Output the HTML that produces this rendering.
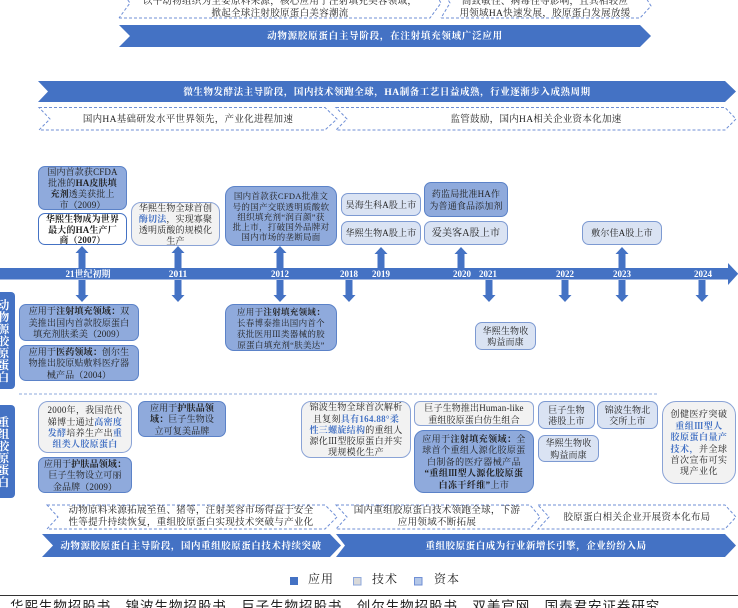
<!DOCTYPE html>
<html lang="zh"><head><meta charset="utf-8">
<style>
html,body{margin:0;padding:0;background:#fff}
#p{position:relative;width:738px;height:608px;overflow:hidden;background:#fff;font-family:"Liberation Serif","Noto Serif CJK SC",serif;color:#222;filter:blur(.25px)}
svg{position:absolute;left:0;top:0}
.b{position:absolute;box-sizing:border-box;display:flex;align-items:center;justify-content:center;text-align:center;font-size:9px;line-height:11.3px;letter-spacing:.15px;border:1px solid #6f8fd0;border-radius:7px;white-space:nowrap;overflow:hidden;padding:0}
.b>span{display:block;flex:none;position:relative;top:1px}
.d{background:#8faadc;border-color:#5b82c8}
.l{background:#dae3f3;border-color:#7d9ad2}
.g{background:#f2f2f2;border-color:#8aa3d6;border-radius:10px}
.w{background:#fff;border-color:#4472c4}
.t{position:absolute;text-align:center;white-space:nowrap;font-size:9.5px;line-height:12px;letter-spacing:.3px}
.h{color:#fff;font-weight:bold;font-size:9.5px;letter-spacing:.75px}
.y{position:absolute;color:#fff;font-weight:bold;font-size:9px;line-height:11px;transform:translateX(-50%);white-space:nowrap}
.s{position:absolute;left:0;width:15px;box-sizing:border-box;padding-right:8px;background:#4472c4;border-radius:0 4px 4px 0;color:#fff;font-weight:bold;font-size:11.5px;line-height:12px;text-align:center;display:flex;align-items:center;justify-content:center;overflow:hidden}
.s>span{display:block;flex:none;position:relative;top:1px}
i{font-style:normal;color:#4472c4;font-weight:bold}
b{font-weight:bold}
</style></head><body><div id="p">
<svg width="738" height="608" viewBox="0 0 738 608">
<g fill="#4472c4">
<polygon points="119,25 640,25 651,36 640,47 119,47 130,36"/>
<polygon points="38,81 725,81 736,91.500 725,102 38,102 48,91.500"/>
<polygon points="42,534 330,534 341,545.500 330,557 42,557 53,545.500"/>
<polygon points="336,534 725,534 736,545.500 725,557 336,557 345,545.500"/>
<rect x="0" y="268" width="728" height="11.500"/>
<polygon points="728,263 738,273.500 738,274 728,285"/>
<path d="M82,246l6.500,7h-3v15h-7v-15h-3z"/><path d="M178,246l6.500,7h-3v15h-7v-15h-3z"/><path d="M280,246l6.500,7h-3v15h-7v-15h-3z"/><path d="M381,247l6.500,7h-3v14h-7v-14h-3z"/><path d="M461,247l6.500,7h-3v14h-7v-14h-3z"/><path d="M622,247l6.500,7h-3v14h-7v-14h-3z"/>
<path d="M82,302l6.500,-7h-3v-15h-7v15h-3z"/><path d="M178,302l6.500,-7h-3v-15h-7v15h-3z"/><path d="M280,302l6.500,-7h-3v-15h-7v15h-3z"/><path d="M349,302l6.500,-7h-3v-15h-7v15h-3z"/><path d="M489,302l6.500,-7h-3v-15h-7v15h-3z"/><path d="M565,302l6.500,-7h-3v-15h-7v15h-3z"/><path d="M622,302l6.500,-7h-3v-15h-7v15h-3z"/><path d="M702,302l6.500,-7h-3v-15h-7v15h-3z"/>
</g>
<g fill="none" stroke="#6f8fd6" stroke-width="1" stroke-dasharray="3 2">
<polyline points="119,18 430,18 441,3 432,-12 119,-12 130,3 119,18"/>
<polyline points="441,18 640,18 651,6 640,-12 441,-12 450,3 441,18"/>
<polygon points="39,107.500 325,107.500 337,119 325,130 39,130 50,119"/>
<polygon points="336,107.500 725,107.500 736,119 725,130 336,130 347,119"/>
<polygon points="47,505 325,505 337,517 325,529 47,529 58,517"/>
<polygon points="336,505 530,505 540,517 530,529 336,529 347,517"/>
<polygon points="538,505 725,505 736,517 725,529 538,529 549,517"/>
<line x1="19" y1="394" x2="657" y2="394" stroke="#8ea8dc"/>
</g>
<rect x="290" y="577" width="8" height="8" fill="#4472c4"/>
<rect x="353.500" y="577.500" width="7.500" height="7.500" fill="#d9d9d9" stroke="#8ea8dc"/>
<rect x="414.500" y="577.500" width="7.500" height="7.500" fill="#b4c7e7" stroke="#6f8fd6"/>
<line x1="0" y1="595.500" x2="738" y2="595.500" stroke="#333" stroke-width="1"/>
</svg>

<div class="t" style="left:119px;width:322px;top:-4px">以牛动物组织为主要原料来源，核心应用于注射填充美容领域，<br>掀起全球注射胶原蛋白美容潮流</div>
<div class="t" style="left:448px;width:194px;top:-4px">高致敏性、病毒性等影响，且其相较应<br>用领域HA快速发展，胶原蛋白发展放缓</div>
<div class="t h" style="left:119px;width:532px;top:31px">动物源胶原蛋白主导阶段，在注射填充领域广泛应用</div>
<div class="t h" style="left:38px;width:698px;top:86.500px;letter-spacing:.55px">微生物发酵法主导阶段，国内技术领跑全球，HA制备工艺日益成熟，行业逐渐步入成熟周期</div>
<div class="t" style="left:39px;width:298px;top:113.500px">国内HA基础研发水平世界领先，产业化进程加速</div>
<div class="t" style="left:336px;width:400px;top:113.500px">监管鼓励，国内HA相关企业资本化加速</div>

<div class="b d" style="left:38px;top:166px;width:89px;height:44px;line-height:11.100px"><span>国内首款获CFDA<br>批准的<b>HA皮肤填</b><br><b>充剂</b>透美获批上<br>市（2009）</span></div>
<div class="b w" style="left:38px;top:213px;width:89px;height:32px;font-weight:bold;line-height:10.800px"><span>华熙生物成为世界<br>最大的HA生产厂<br>商（2007）</span></div>
<div class="b g" style="left:131px;top:202px;width:89px;height:44px;line-height:10.800px"><span>华熙生物全球首创<br><i>酶切法</i>，实现寡聚<br>透明质酸的规模化<br>生产</span></div>
<div class="b d" style="left:225px;top:186px;width:112px;height:60px;border-radius:10px;font-size:8.500px;letter-spacing:.3px;line-height:10.300px"><span>国内首款获CFDA批准文<br>号的国产交联透明质酸软<br>组织填充剂“润百颜”获<br>批上市，打破国外品牌对<br>国内市场的垄断局面</span></div>
<div class="b l" style="left:341px;top:193px;width:80px;height:23px"><span>昊海生科A股上市</span></div>
<div class="b l" style="left:341px;top:221px;width:80px;height:24px"><span>华熙生物A股上市</span></div>
<div class="b d" style="left:424px;top:182px;width:84px;height:35px;line-height:11.700px"><span>药监局批准HA作<br>为普通食品添加剂</span></div>
<div class="b l" style="left:424px;top:221px;width:84px;height:24px;font-size:10px"><span>爱美客A股上市</span></div>
<div class="b l" style="left:582px;top:221px;width:80px;height:24px"><span>敷尔佳A股上市</span></div>

<div class="y" style="left:88px;top:268.500px">21世纪初期</div>
<div class="y" style="left:178px;top:269.500px;font-size:9.500px">2011</div>
<div class="y" style="left:280px;top:268.500px">2012</div>
<div class="y" style="left:349px;top:268.500px">2018</div>
<div class="y" style="left:381px;top:268.500px">2019</div>
<div class="y" style="left:462px;top:268.500px">2020</div>
<div class="y" style="left:488px;top:268.500px">2021</div>
<div class="y" style="left:565px;top:268.500px">2022</div>
<div class="y" style="left:622px;top:268.500px">2023</div>
<div class="y" style="left:703px;top:268.500px">2024</div>

<div class="s" style="top:292px;height:97px"><span>动<br>物<br>源<br>胶<br>原<br>蛋<br>白</span></div>
<div class="s" style="top:405px;height:93px"><span>重<br>组<br>胶<br>原<br>蛋<br>白</span></div>

<div class="b d" style="left:19px;top:304px;width:120px;height:37px;line-height:11.700px"><span>应用于<b>注射填充领域：</b>双<br>美推出国内首款胶原蛋白<br>填充剂肤柔美（2009）</span></div>
<div class="b d" style="left:19px;top:345px;width:120px;height:36px;line-height:11.500px"><span>应用于<b>医药领域：</b>创尔生<br>物推出胶原贴敷料医疗器<br>械产品（2004）</span></div>
<div class="b d" style="left:225px;top:304px;width:112px;height:47px;border-radius:9px;font-size:8.500px;letter-spacing:.3px;line-height:11px"><span>应用于<b>注射填充领域：</b><br>长春博泰推出国内首个<br>获批医用Ⅲ类器械的胶<br>原蛋白填充剂“肤美达”</span></div>
<div class="b l" style="left:475px;top:322px;width:61px;height:28px"><span>华熙生物收<br>购益而康</span></div>

<div class="b g" style="left:38px;top:401px;width:94px;height:52px;letter-spacing:.3px"><span>2000年，我国范代<br>娣博士通过<i>高密度</i><br><i>发酵</i>培养生产出<i>重</i><br><i>组类人胶原蛋白</i></span></div>
<div class="b d" style="left:38px;top:457px;width:94px;height:36px"><span>应用于<b>护肤品领域：</b><br>巨子生物设立可丽<br>金品牌（2009）</span></div>
<div class="b d" style="left:138px;top:401px;width:88px;height:36px"><span>应用于<b>护肤品领</b><br><b>域：</b>巨子生物设<br>立可复美品牌</span></div>
<div class="b g" style="left:301px;top:401px;width:110px;height:57px;letter-spacing:.3px"><span>锦波生物全球首次解析<br>且复刻<i>具有164.88°柔</i><br><i>性三螺旋结构</i>的重组人<br>源化Ⅲ型胶原蛋白并实<br>现规模化生产</span></div>
<div class="b g" style="left:414px;top:401px;width:120px;height:25px;border-radius:6px"><span>巨子生物推出Human-like<br>重组胶原蛋白仿生组合</span></div>
<div class="b d" style="left:414px;top:430px;width:120px;height:63px;border-radius:10px;letter-spacing:.4px;line-height:11.500px"><span>应用于<b>注射填充领域：</b>全<br>球首个重组人源化胶原蛋<br>白制备的医疗器械产品<br><b>“重组Ⅲ型人源化胶原蛋</b><br><b>白冻干纤维”</b>上市</span></div>
<div class="b l" style="left:538px;top:401px;width:57px;height:28px"><span>巨子生物<br>港股上市</span></div>
<div class="b l" style="left:597px;top:401px;width:61px;height:28px"><span>锦波生物北<br>交所上市</span></div>
<div class="b l" style="left:538px;top:435px;width:61px;height:27px"><span>华熙生物收<br>购益而康</span></div>
<div class="b g" style="left:662px;top:401px;width:74px;height:83px;border-radius:14px;letter-spacing:.5px;line-height:11.400px"><span>创健医疗突破<br><i>重组Ⅲ型人</i><br><i>胶原蛋白量产</i><br><i>技术，</i>并全球<br>首次宣布可实<br>现产业化</span></div>

<div class="t" style="left:50px;width:282px;top:506px;line-height:11.700px">动物原料来源拓展至鱼、猪等，注射美容市场得益于安全<br>性等提升持续恢复，重组胶原蛋白实现技术突破与产业化</div>
<div class="t" style="left:342px;width:190px;top:506px;line-height:11.700px">国内重组胶原蛋白技术领跑全球，下游<br>应用领域不断拓展</div>
<div class="t" style="left:538px;width:198px;top:512px">胶原蛋白相关企业开展资本化布局</div>
<div class="t h" style="left:42px;width:298px;top:541px;letter-spacing:.55px">动物源胶原蛋白主导阶段，国内重组胶原蛋白技术持续突破</div>
<div class="t h" style="left:336px;width:400px;top:541px;letter-spacing:.55px">重组胶原蛋白成为行业新增长引擎，企业纷纷入局</div>

<div class="t" style="left:308px;top:571px;font-size:12px;line-height:16px;letter-spacing:1px">应用</div>
<div class="t" style="left:372px;top:571px;font-size:12px;line-height:16px;letter-spacing:1px">技术</div>
<div class="t" style="left:434px;top:571px;font-size:12px;line-height:16px;letter-spacing:1px">资本</div>
<div class="t" style="left:10px;top:598px;font-size:13.500px;line-height:18px;letter-spacing:.95px;font-family:'Liberation Sans','Noto Sans CJK SC',sans-serif">华熙生物招股书、锦波生物招股书、巨子生物招股书、创尔生物招股书、双美官网、国泰君安证券研究</div>
</div></body></html>
